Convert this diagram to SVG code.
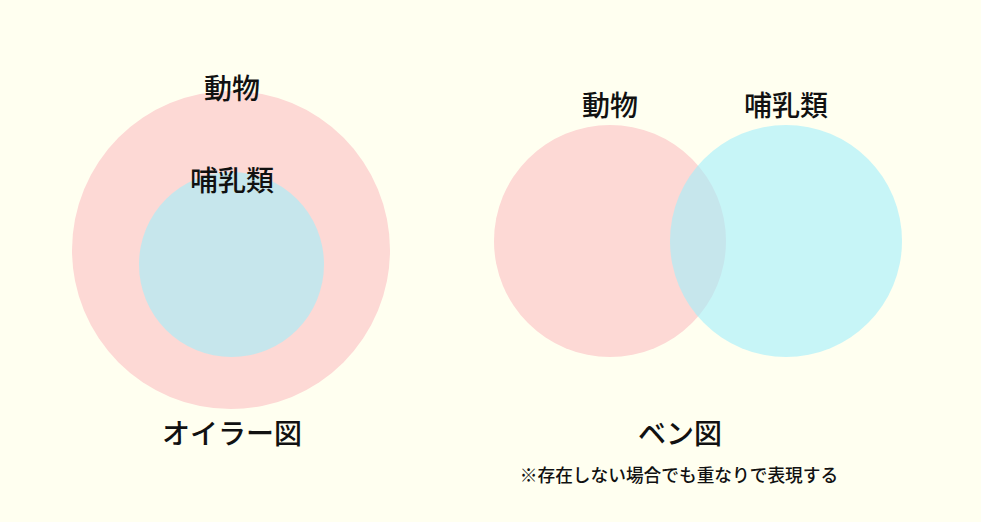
<svg xmlns="http://www.w3.org/2000/svg" width="981" height="522" viewBox="0 0 981 522">
<style>
.t{font-family:"Noto Sans CJK JP","Noto Sans",sans-serif;font-weight:500;fill:#111;text-anchor:middle}
.l{font-size:28px}
.s{font-size:17.7px}
.pink{fill:#FDD9D5}
.cyan{fill:#A2EEFC;fill-opacity:0.6}
</style>
<rect width="981" height="522" fill="#FFFFF0"/>
<g id="euler">
<g id="euler-animal"><circle class="pink" cx="231" cy="250" r="159"/><text class="t l" x="232" y="99">動物</text></g>
<g id="euler-mammal"><circle class="cyan" cx="231.5" cy="264.5" r="92.5"/><text class="t l" x="232" y="191">哺乳類</text></g>
<text class="t l" x="232" y="444">オイラー図</text>
</g>
<g id="venn">
<g id="venn-animal"><circle class="pink" cx="610" cy="241" r="116"/><text class="t l" x="610" y="116">動物</text></g>
<g id="venn-mammal"><circle class="cyan" cx="786" cy="241" r="116"/><text class="t l" x="786" y="116">哺乳類</text></g>
<text class="t l" x="680" y="444">ベン図</text>
<text class="t s" x="679" y="482">※存在しない場合でも重なりで表現する</text>
</g>
<g id="connectors"/>
</svg>
